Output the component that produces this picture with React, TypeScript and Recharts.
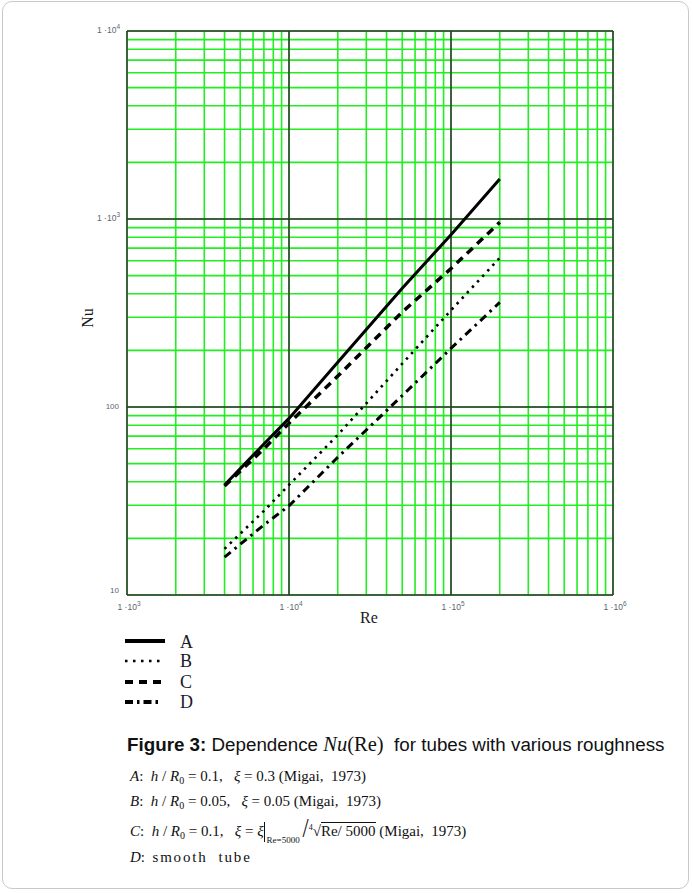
import { LineChart, Line, XAxis, YAxis, CartesianGrid, ReferenceLine } from "recharts";

const reValues = [4000, 7000, 10000, 20000, 50000, 100000, 200000];
const nuA = [38.5, 63.5, 87, 173, 428, 825, 1633];
const nuB = [17.6, 28, 38.5, 71, 170, 327, 622];
const nuC = [38, 60, 82, 146, 320, 545, 960];
const nuD = [15.9, 23.6, 29.8, 54, 115, 205, 360];

const xDecades = [1000, 10000, 100000, 1000000];
const yDecades = [10, 100, 1000, 10000];
const steps = [1, 2, 3, 4, 5, 6, 7, 8, 9];

const xTicks = xDecades.flatMap((d, i) => (i === xDecades.length - 1 ? [d] : steps.map((s) => s * d)));
const yTicks = yDecades.flatMap((d, i) => (i === yDecades.length - 1 ? [d] : steps.map((s) => s * d)));

const legendKeys = ["A", "B", "C", "D"];

const data = reValues.map((re, i) => ({ re, A: nuA[i], B: nuB[i], C: nuC[i], D: nuD[i] }));

const GREEN = "#22ee22";
const DARK = "#333";
const tickFont = '"Liberation Sans", Arial, sans-serif';
const serif = '"Liberation Serif", "Times New Roman", serif';

const isDecade = (v: number) => Math.abs(Math.log10(v) - Math.round(Math.log10(v))) < 1e-9;

function PowLabel({ x, y, exp, anchor }: { x: number; y: number; exp: number; anchor: "start" | "middle" | "end" }) {
  return (
    <text x={x} y={y} textAnchor={anchor} fontFamily={tickFont} fontSize={8.5} fill="#5b6670">
      1 ·10
      <tspan dy={-4} fontSize={6.5}>
        {exp}
      </tspan>
    </text>
  );
}

function XTick(props: any) {
  const { x, y, payload } = props;
  const v = payload.value;
  if (!isDecade(v)) return <g />;
  return <PowLabel x={x + 2} y={y + 13} exp={Math.round(Math.log10(v))} anchor="middle" />;
}

function YTick(props: any) {
  const { x, y, payload } = props;
  const v = payload.value;
  if (!isDecade(v)) return <g />;
  const e = Math.round(Math.log10(v));
  const ty = v === 10 ? y - 2 : y + 2;
  if (e <= 2) {
    return (
      <text x={x - 6} y={ty} textAnchor="end" fontFamily={tickFont} fontSize={8} fill="#5b6670">
        {v}
      </text>
    );
  }
  return <PowLabel x={x - 5} y={ty} exp={e} anchor="end" />;
}

const sub0 = <sub style={{ fontSize: 10, verticalAlign: -3, lineHeight: 0 }}>0</sub>;

export default function App() {
  const lineStyle = { position: "absolute" as const, left: 130, fontFamily: serif, fontSize: 15, color: "#111", whiteSpace: "nowrap" as const, lineHeight: "18px" };
  return (
    <div style={{ position: "absolute", left: 0, top: 0, width: 693, height: 893, background: "#fff" }}>
      <div
        style={{
          position: "absolute",
          left: 2,
          top: 1,
          width: 687,
          height: 888,
          border: "1px solid #c9c9c9",
          borderRadius: 10,
          boxSizing: "border-box",
        }}
      />
      <div style={{ position: "absolute", left: 0, top: 0 }}>
        <LineChart width={693} height={640} data={data} margin={{ top: 31, right: 80, left: 87, bottom: 15 }}>
          <CartesianGrid stroke={GREEN} strokeWidth={1.6} />
          <XAxis
            dataKey="re"
            type="number"
            scale="log"
            domain={[1000, 1000000]}
            ticks={xTicks}
            allowDataOverflow
            height={30}
            axisLine={false}
            tickLine={false}
            tickSize={0}
            tick={<XTick />}
            interval={0}
          />
          <YAxis
            type="number"
            scale="log"
            domain={[10, 10000]}
            ticks={yTicks}
            allowDataOverflow
            width={40}
            axisLine={false}
            tickLine={false}
            tickSize={0}
            tick={<YTick />}
            interval={0}
          />
          {xDecades.map((d) => (
            <ReferenceLine key={"x" + d} x={d} stroke={DARK} strokeWidth={1.5} />
          ))}
          {yDecades.map((d) => (
            <ReferenceLine key={"y" + d} y={d} stroke={DARK} strokeWidth={1.5} />
          ))}
          <Line dataKey="A" stroke="#000" strokeWidth={3} dot={false} isAnimationActive={false} type="linear" />
          <Line dataKey="C" stroke="#000" strokeWidth={3.5} strokeDasharray="8 6" dot={false} isAnimationActive={false} type="linear" />
          <Line dataKey="B" stroke="#000" strokeWidth={2.6} strokeDasharray="2.5 5" dot={false} isAnimationActive={false} type="linear" />
          <Line dataKey="D" stroke="#000" strokeWidth={3} strokeDasharray="8 5 2.5 5" dot={false} isAnimationActive={false} type="linear" />
        </LineChart>
      </div>

      {/* axis titles and legend */}
      <svg style={{ position: "absolute", left: 0, top: 0 }} width={693} height={720}>
        <text x={93} y={318} transform="rotate(-90 93 318)" textAnchor="middle" fontFamily={serif} fontSize={16} fill="#1a1a1a">
          Nu
        </text>
        <text x={369} y={623} textAnchor="middle" fontFamily={serif} fontSize={16} fill="#1a1a1a">
          Re
        </text>
        <line x1={125} x2={165} y1={641} y2={641} stroke="#000" strokeWidth={4} />
        <line x1={125} x2={160} y1={661} y2={661} stroke="#000" strokeWidth={2.6} strokeDasharray="2.5 5.5" />
        <line x1={125} x2={161} y1={682} y2={682} stroke="#000" strokeWidth={4} strokeDasharray="8 6" />
        <line x1={125} x2={161} y1={702} y2={702} stroke="#000" strokeWidth={4} strokeDasharray="8 4 2.5 4" />
        {legendKeys.map((s, i) => (
          <text key={s} x={180} y={[647.5, 667, 688, 708][i]} fontFamily={serif} fontSize={18} fill="#1a1a2a">
            {s}
          </text>
        ))}
      </svg>

      {/* caption */}
      <div style={{ position: "absolute", left: 127, top: 733, fontFamily: tickFont, fontSize: 18.8, color: "#111", whiteSpace: "nowrap" }}>
        <b>Figure 3:</b> Dependence{" "}
        <span style={{ fontFamily: serif, fontSize: 20.5 }}>
          <i>Nu</i>(Re)
        </span>
        &nbsp; for tubes with various roughness
      </div>
      <div style={{ ...lineStyle, top: 767 }}>
        <i>A</i>:&nbsp; <i>h</i> / <i>R</i>
        {sub0} = 0.1,&nbsp;&nbsp; <i>ξ</i> = 0.3 (Migai,&nbsp; 1973)
      </div>
      <div style={{ ...lineStyle, top: 792 }}>
        <i>B</i>:&nbsp; <i>h</i> / <i>R</i>
        {sub0} = 0.05,&nbsp;&nbsp; <i>ξ</i> = 0.05 (Migai,&nbsp; 1973)
      </div>
      <div style={{ ...lineStyle, top: 820 }}>
        <i>C</i>:&nbsp; <i>h</i> / <i>R</i>
        {sub0} = 0.1,&nbsp;&nbsp; <i>ξ</i> = <i>ξ</i>
        <span style={{ display: "inline-block", borderLeft: "1px solid #111", height: 20, verticalAlign: -6, position: "relative", width: 38 }}>
          <span style={{ position: "absolute", left: 2, bottom: -3, fontSize: 9, lineHeight: "9px" }}>Re=5000</span>
        </span>
        <span style={{ display: "inline-block", fontSize: 22, transform: "scaleY(1.2)", lineHeight: "18px" }}>/</span>
        <sup style={{ fontSize: 8, verticalAlign: 6, lineHeight: 0 }}>4</sup>√<span style={{ borderTop: "1px solid #111" }}>Re/ 5000</span> (Migai,&nbsp; 1973)
      </div>
      <div style={{ ...lineStyle, top: 848 }}>
        <i>D</i>:&nbsp; <span style={{ letterSpacing: 1.8 }}>smooth&nbsp; tube</span>
      </div>
    </div>
  );
}
